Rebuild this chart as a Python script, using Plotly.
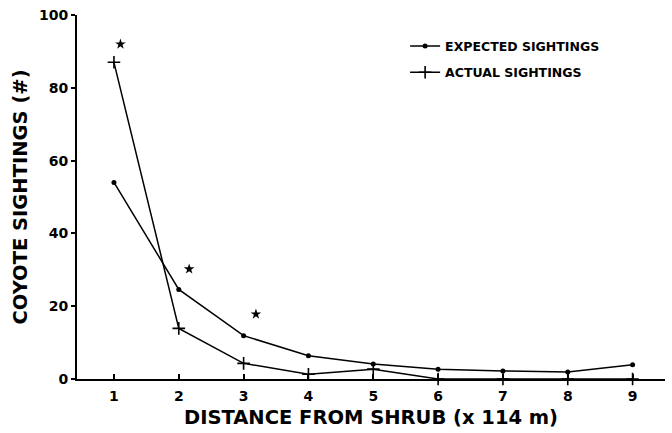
import plotly.graph_objects as go

# Distance classes from the shrub (units of 114 m)
distance = [1, 2, 3, 4, 5, 6, 7, 8, 9]

# Coyote sightings per distance class
expected_sightings = [54, 24.6, 11.9, 6.4, 4.1, 2.7, 2.2, 1.9, 3.9]
actual_sightings = [87, 13.9, 4.3, 1.3, 2.7, 0, 0, 0, 0]

# Significance markers placed beside the distance classes that differ
star_x = [1.1, 2.16, 3.19]
star_y = [92, 30.2, 17.8]

x_ticks = [1, 2, 3, 4, 5, 6, 7, 8, 9]
y_ticks = [0, 20, 40, 60, 80, 100]

FONT = "DejaVu Sans"

fig = go.Figure()

fig.add_trace(go.Scatter(
    x=distance, y=expected_sightings,
    mode="lines+markers",
    name="EXPECTED SIGHTINGS",
    legendgroup="expected",
    line=dict(color="black", width=1.5),
    marker=dict(symbol="circle", size=5, color="black"),
    cliponaxis=False,
))

fig.add_trace(go.Scatter(
    x=distance, y=actual_sightings,
    mode="lines+markers",
    name="ACTUAL SIGHTINGS",
    legendgroup="actual",
    line=dict(color="black", width=1.5),
    marker=dict(symbol="cross-thin", size=9, color="black",
                line=dict(color="black", width=1.6)),
    cliponaxis=False,
))

fig.add_trace(go.Scatter(
    x=star_x, y=star_y,
    mode="markers",
    showlegend=False,
    marker=dict(symbol="star", size=8, color="black"),
    hoverinfo="skip",
))

fig.update_layout(
    width=672, height=433,
    margin=dict(l=77, r=7, t=15, b=54),
    paper_bgcolor="white",
    plot_bgcolor="white",
    font=dict(family=FONT, color="black", size=13, weight="bold"),
    showlegend=True,
    legend=dict(
        x=0.558, y=0.955, xanchor="left", yanchor="top",
        bgcolor="rgba(0,0,0,0)",
        font=dict(family=FONT, size=12.5, color="black", weight="bold"),
        tracegroupgap=7,
        itemclick=False,
    ),
)

fig.update_xaxes(
    range=[0.43, 9.5],
    tickmode="array", tickvals=x_ticks,
    ticks="inside", ticklen=5, tickwidth=1.5, tickcolor="black",
    showline=True, linecolor="black", linewidth=2,
    showgrid=False, zeroline=False,
    tickfont=dict(family=FONT, size=14, color="black", weight="bold"),
    ticklabelstandoff=3,
    title=dict(text="DISTANCE FROM SHRUB (x 114 m)",
               font=dict(family=FONT, size=19.5, color="black", weight="bold"),
               standoff=8),
)

fig.update_yaxes(
    range=[0, 100],
    tickmode="array", tickvals=y_ticks,
    ticks="outside", ticklen=4, tickwidth=1.5, tickcolor="black",
    showline=True, linecolor="black", linewidth=2,
    showgrid=False, zeroline=False,
    tickfont=dict(family=FONT, size=14, color="black", weight="bold"),
    title=dict(text="COYOTE SIGHTINGS (#)",
               font=dict(family=FONT, size=19.5, color="black", weight="bold"),
               standoff=6),
)

fig.write_html("out.html")
